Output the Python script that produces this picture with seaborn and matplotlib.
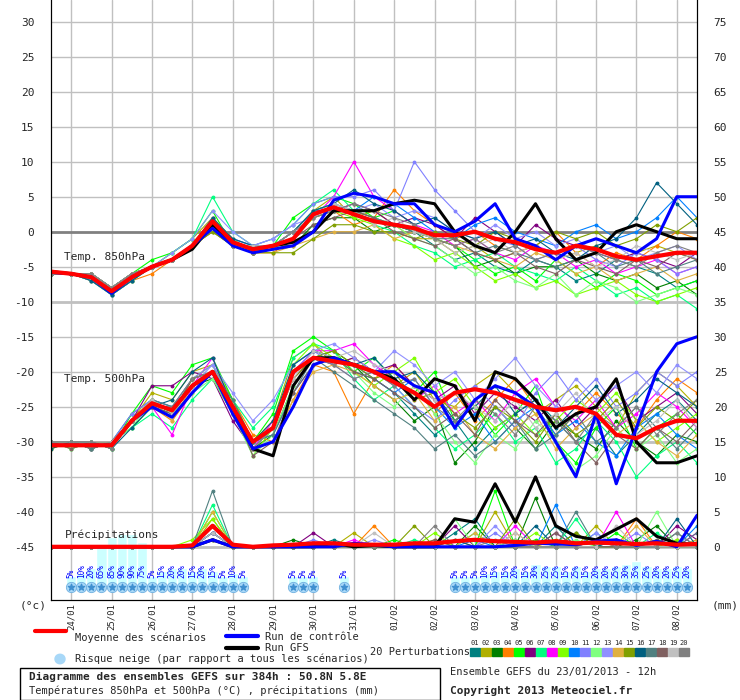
import numpy as np
import pandas as pd
import matplotlib
matplotlib.use('Agg')
import matplotlib.pyplot as plt
import seaborn as sns

# forecast hours, 12h steps from 23/01/2013 12h
hours = list(range(0, 385, 12))
dates = ['24/01', '25/01', '26/01', '27/01', '28/01', '29/01', '30/01', '31/01',
         '01/02', '02/02', '03/02', '04/02', '05/02', '06/02', '07/02', '08/02']

pert_colors = ['#008080', '#b0b000', '#008000', '#ff8000', '#00ff00', '#800080', '#00ff80',
               '#ff00ff', '#80ff00', '#0080ff', '#8080ff', '#80ff80', '#9090ff', '#e0b040',
               '#80a000', '#006080', '#508080', '#806060', '#c0c0c0', '#808080']

# --- 850 hPa temperature (°C)
t850_mean = [-5.7, -6, -6.5, -8.5, -6.5, -5, -4, -2, 1.5, -1.5, -2.5, -2, -1, 2.5, 3.5, 2.5, 1.5,
             1, 0.5, -0.5, -0.5, 0, -1, -1.5, -2.5, -3, -2, -2.5, -3.5, -4, -3.5, -3, -3]
t850_ctrl = [-5.8, -6, -6.5, -8.8, -6.5, -5, -4, -2, 0.5, -2, -3, -2.5, -2, 0, 4.5, 5.5, 5, 4,
             4, 1, 0, 1.5, 4, -1, -2, -4, -2, -1, -2, -3, -1, 5, 5]
t850_gfs = [-5.7, -6, -6.5, -8.5, -6.5, -5, -4, -2.5, 1, -1.5, -2.5, -2, -1.5, 0, 3, 3, 3, 4,
            4.5, 4, 0, -2, -3, 0, 4, -1, -4, -3, 0, 1, 0, -1, -1]
t850_pert = [
    [-6, -6, -6, -9, -7, -5, -4, -2, 1, -2, -3, -2, -1, 3, 4, 3, 2, 1, 0, -2, -4, -3, -5, -6, -4, -5, -7, -6, -4, -5, -6, -8, -7],
    [-6, -6, -7, -8, -6, -5, -3, -1, 2, -1, -3, -2, 0, 3, 5, 2, 3, 1, -1, -1, -3, -2, -4, -3, -2, -4, -3, -2, -4, -3, -2, -3, -4],
    [-6, -6, -6, -8, -6, -5, -4, -2, 0, -2, -2, -2, -2, 1, 2, 2, 0, 1, 0, -1, -2, -5, -4, -6, -5, -5, -4, -6, -7, -6, -8, -7, -9],
    [-6, -6, -7, -9, -7, -6, -4, -2, 2, -1, -3, -3, -1, 2, 3, 1, 2, 6, 3, 1, -1, 0, -2, -3, -2, 0, -3, -5, -3, -4, -2, 0, -1],
    [-6, -6, -6, -8, -6, -4, -3, -1, 3, -2, -3, -2, 2, 4, 5, 4, 2, 3, 1, -1, -2, -4, -6, -5, -7, -4, -6, -8, -6, -7, -9, -8, -7],
    [-6, -6, -6, -8, -6, -5, -4, -2, 1, -2, -3, -2, 0, 3, 3, 4, 3, 1, 2, 1, -1, 2, 0, -2, 1, -1, -2, -3, -4, -3, -4, -5, -3],
    [-6, -6, -7, -9, -7, -5, -3, -1, 5, 0, -2, -1, 1, 4, 6, 3, 1, 0, -2, -3, -5, -4, -3, -5, -6, -7, -5, -7, -9, -8, -10, -9, -11],
    [-6, -6, -6, -8, -6, -5, -4, -2, 2, -2, -3, -2, 0, 2, 5, 10, 5, 3, 1, 0, -2, -1, -3, -4, -2, -3, -5, -4, -6, -5, -4, -6, -5],
    [-6, -6, -6, -8, -7, -5, -4, -2, 1, -2, -2, -2, -1, 2, 3, 2, 1, -1, -2, -4, -3, -5, -7, -6, -8, -7, -9, -8, -7, -9, -10, -9, -8],
    [-6, -6, -6, -8, -6, -5, -4, -2, 1, -1, -2, -2, 0, 3, 4, 3, 5, 4, 2, 0, -1, 1, 2, 0, -1, -2, 0, 1, -1, 0, 2, 5, 2],
    [-6, -6, -7, -9, -7, -5, -4, -2, 2, -1, -2, -1, 1, 4, 5, 5, 6, 3, 10, 6, 3, 0, -1, -2, -4, -3, -2, -4, -5, -3, -4, -6, -5],
    [-6, -6, -6, -8, -6, -5, -4, -2, 2, -1, -3, -2, 0, 3, 4, 3, 2, 1, -1, -2, -4, -6, -5, -7, -8, -6, -9, -7, -8, -10, -9, -8, -9],
    [-6, -6, -6, -8, -6, -5, -3, -1, 3, 0, -2, -1, 1, 2, 4, 3, 4, 2, 3, 2, 0, -1, 1, -1, 0, -2, -1, -3, -2, -4, -3, -2, -4],
    [-6, -6, -6, -8, -6, -5, -4, -2, 0, -2, -3, -3, -2, -1, 0, 0, 1, -1, 0, -1, -2, -3, -4, -5, -3, -4, -6, -5, -7, -6, -5, -7, -6],
    [-6, -6, -6, -8, -6, -5, -4, -2, 0, -2, -3, -3, -3, -1, 1, 1, 0, 0, -1, 0, -1, -2, 0, -1, -2, 0, -1, 0, -2, -1, 1, 0, 2],
    [-6, -6, -7, -9, -7, -5, -4, -2, 2, -1, -2, -2, 0, 3, 4, 6, 4, 3, 1, 2, 0, -1, 0, -2, -1, -3, -4, -2, -1, 2, 7, 4, 1],
    [-6, -6, -6, -8, -6, -5, -4, -2, 1, -2, -3, -2, 0, 2, 3, 3, 2, 1, 0, -1, -1, -3, -2, -3, -4, -5, -4, -3, -5, -4, -6, -5, -4],
    [-6, -6, -6, -8, -6, -5, -4, -2, 1, -2, -3, -2, -1, 1, 2, 3, 2, 0, -1, -2, -1, -3, -4, -3, -5, -6, -4, -5, -6, -4, -5, -3, -4],
    [-6, -6, -6, -8, -6, -5, -4, -2, 1, -2, -2, -2, 0, 2, 4, 3, 1, 2, 0, -1, -3, -2, -1, -3, -2, -4, -3, -5, -4, -2, -3, -4, -3],
    [-6, -6, -6, -8, -6, -5, -4, -2, 1, -2, -3, -2, 0, 2, 3, 4, 3, 2, 1, -1, -2, -1, -3, -2, -4, -3, -2, -3, -4, -5, -3, -2, -3],
]

# --- 500 hPa temperature (°C)
t500_mean = [-30.5, -30.5, -30.5, -30.5, -27, -24.5, -25.5, -22, -20, -25, -30, -28, -20, -18,
             -18.5, -19, -20, -21.5, -23, -25, -23, -22.5, -23, -24, -25, -25.5, -25, -26, -29,
             -29.5, -28, -27, -27]
t500_ctrl = [-30.5, -30.5, -30.5, -30.5, -27, -25, -26.5, -23, -20, -26, -31, -30, -25, -19, -18,
             -19, -20, -20, -22, -23, -28, -24, -22, -23, -25, -30, -35, -26, -36, -28, -20, -16, -15]
t500_gfs = [-30.5, -30.5, -30.5, -30.5, -27, -24.5, -25.5, -22, -20, -25, -31, -32, -22, -18, -18,
            -19, -20, -21, -24, -21, -22, -27, -20, -21, -24, -28, -26, -25, -21, -30, -33, -33, -32]
t500_pert = [
    [-30, -30, -31, -30, -26, -24, -25, -21, -20, -25, -31, -28, -19, -17, -18, -20, -21, -23, -26, -29, -27, -31, -28, -26, -24, -27, -30, -28, -32, -29, -26, -24, -27],
    [-30, -31, -30, -31, -27, -23, -24, -20, -19, -24, -30, -27, -18, -16, -19, -18, -20, -22, -20, -24, -25, -22, -20, -23, -26, -24, -22, -25, -28, -23, -20, -22, -25],
    [-30, -30, -31, -30, -28, -25, -26, -22, -21, -26, -31, -29, -22, -18, -17, -19, -22, -24, -27, -25, -33, -30, -25, -28, -31, -27, -29, -31, -27, -30, -32, -29, -30],
    [-31, -30, -30, -30, -27, -25, -27, -23, -20, -24, -29, -30, -24, -19, -20, -26, -21, -19, -22, -26, -23, -27, -24, -21, -25, -29, -26, -23, -26, -28, -24, -21, -23],
    [-30, -30, -30, -31, -26, -22, -23, -19, -18, -24, -30, -26, -17, -15, -17, -20, -18, -21, -23, -20, -27, -25, -29, -26, -22, -30, -33, -28, -25, -31, -28, -26, -29],
    [-30, -30, -31, -30, -27, -22, -22, -20, -21, -27, -31, -28, -21, -18, -19, -18, -20, -19, -22, -24, -22, -26, -23, -25, -27, -24, -28, -25, -22, -27, -25, -23, -26],
    [-30, -31, -30, -30, -28, -26, -28, -24, -21, -24, -28, -25, -18, -16, -17, -21, -24, -22, -25, -28, -31, -29, -26, -30, -28, -33, -31, -27, -30, -35, -32, -30, -33],
    [-30, -30, -30, -30, -27, -25, -29, -22, -18, -25, -31, -27, -20, -17, -17, -16, -19, -21, -24, -22, -26, -24, -27, -23, -21, -25, -27, -24, -28, -26, -23, -25, -28],
    [-31, -30, -30, -31, -27, -24, -26, -21, -19, -25, -32, -28, -19, -16, -18, -20, -22, -20, -18, -23, -21, -25, -28, -26, -29, -27, -24, -26, -23, -27, -30, -28, -26],
    [-30, -30, -31, -30, -27, -25, -26, -22, -20, -26, -30, -29, -23, -19, -18, -19, -21, -23, -21, -25, -28, -26, -30, -27, -25, -29, -27, -30, -32, -28, -26, -29, -31],
    [-30, -30, -30, -30, -26, -24, -25, -21, -19, -25, -31, -28, -20, -17, -19, -21, -20, -22, -25, -27, -24, -22, -25, -28, -23, -20, -24, -21, -25, -23, -20, -22, -20],
    [-30, -31, -30, -30, -28, -24, -26, -23, -21, -26, -32, -29, -22, -18, -18, -20, -23, -25, -22, -26, -30, -33, -29, -31, -27, -30, -34, -32, -28, -31, -29, -33, -31],
    [-30, -30, -30, -31, -27, -25, -25, -22, -19, -23, -27, -24, -19, -17, -16, -18, -20, -17, -19, -22, -20, -24, -21, -18, -22, -25, -21, -24, -22, -20, -23, -19, -21],
    [-30, -30, -31, -30, -27, -24, -27, -22, -20, -25, -31, -30, -24, -20, -19, -20, -22, -24, -23, -27, -25, -29, -31, -28, -26, -31, -28, -26, -29, -27, -30, -32, -29],
    [-30, -30, -30, -30, -27, -25, -26, -21, -20, -26, -31, -28, -21, -18, -17, -19, -21, -20, -24, -23, -26, -28, -25, -27, -30, -26, -29, -27, -24, -28, -25, -27, -24],
    [-31, -30, -30, -31, -28, -25, -24, -20, -18, -25, -30, -27, -19, -17, -18, -19, -18, -21, -20, -23, -27, -25, -22, -26, -24, -28, -25, -22, -26, -24, -21, -23, -25],
    [-30, -30, -31, -30, -27, -24, -25, -22, -20, -24, -30, -29, -23, -18, -20, -22, -24, -26, -28, -31, -29, -32, -30, -27, -31, -29, -26, -30, -28, -25, -28, -31, -28],
    [-30, -31, -30, -30, -27, -25, -26, -21, -20, -25, -32, -30, -23, -19, -18, -20, -21, -23, -25, -28, -26, -29, -24, -27, -29, -26, -30, -33, -29, -31, -28, -30, -27],
    [-30, -30, -30, -30, -27, -24, -26, -22, -20, -26, -31, -28, -21, -17, -18, -17, -19, -20, -22, -24, -23, -25, -27, -24, -28, -26, -23, -27, -25, -29, -27, -24, -28],
    [-30, -30, -30, -31, -27, -25, -25, -21, -20, -25, -31, -28, -20, -18, -19, -21, -20, -22, -21, -25, -27, -24, -26, -29, -25, -27, -30, -26, -28, -25, -29, -26, -24],
]

# --- precipitation (mm), drawn with 0 mm at -45 on the left scale
pr_mean = [0, 0, 0, 0, 0, 0, 0, 0.2, 3, 0.3, 0, 0.2, 0.3, 0.5, 0.5, 0.3, 0.3, 0.3, 0.5, 0.5, 0.8,
           1, 0.8, 0.7, 0.6, 0.8, 0.5, 0.6, 0.5, 0.4, 0.5, 0.3, 0.4]
pr_ctrl = [0, 0, 0, 0, 0, 0, 0, 0, 1, 0, 0, 0, 0, 0, 0, 0.5, 0.3, 0, 0, 0, 0, 0, 0, 0.2, 0.5, 0.4,
           0.3, 0.8, 1, 0.2, 0.8, 0, 4.5]
pr_gfs = [0, 0, 0, 0, 0, 0, 0, 0, 1, 0, 0, 0, 0, 0, 0.5, 0, 0.2, 0, 0, 0, 4, 3.5, 9, 3.5, 10, 3,
          1.5, 1, 2.5, 4, 1.5, 0.5, 0.3]
pr_pert = [
    [0, 0, 0, 0, 0, 0, 0, 0, 2, 0, 0, 0, 0, 0, 1, 0, 0, 0, 0, 0, 2, 4, 0, 1, 0, 3, 0, 0, 1, 0, 0, 2, 0],
    [0, 0, 0, 0, 0, 0, 0, 0, 4, 0, 0, 0, 0, 0, 0, 2, 0, 0, 0, 1, 0, 0, 5, 0, 0, 1, 0, 3, 0, 0, 0, 0, 1],
    [0, 0, 0, 0, 0, 0, 0, 0, 3, 0, 0, 0, 1, 0, 0, 0, 0, 0, 0, 0, 0, 3, 0, 0, 7, 0, 2, 0, 0, 1, 3, 0, 0],
    [0, 0, 0, 0, 0, 0, 0, 0, 1, 0, 0, 0, 0, 0, 0, 0, 3, 0, 0, 0, 1, 0, 0, 2, 0, 0, 0, 1, 0, 4, 0, 1, 0],
    [0, 0, 0, 0, 0, 0, 0, 0, 5, 0, 0, 0, 0, 0, 0, 0, 0, 1, 0, 0, 0, 0, 8, 0, 1, 0, 0, 0, 2, 0, 1, 0, 0],
    [0, 0, 0, 0, 0, 0, 0, 0, 2, 0, 0, 0, 0, 2, 0, 0, 0, 0, 0, 0, 3, 0, 0, 0, 0, 2, 0, 0, 0, 0, 0, 3, 1],
    [0, 0, 0, 0, 0, 0, 0, 0, 6, 0, 0, 0, 0, 0, 0, 0, 0, 0, 1, 0, 0, 2, 0, 0, 0, 0, 4, 0, 0, 0, 2, 0, 0],
    [0, 0, 0, 0, 0, 0, 0, 0, 2, 0, 0, 0, 0, 0, 0, 1, 0, 0, 0, 0, 0, 0, 0, 3, 0, 0, 0, 0, 5, 0, 0, 0, 2],
    [0, 0, 0, 0, 0, 0, 0, 1, 4, 0, 0, 0, 0, 0, 0, 0, 0, 0, 0, 2, 0, 0, 0, 0, 2, 0, 0, 0, 0, 0, 0, 1, 0],
    [0, 0, 0, 0, 0, 0, 0, 0, 1, 0, 0, 0, 0, 0, 0, 0, 0, 0, 0, 0, 0, 1, 0, 0, 0, 6, 0, 2, 0, 0, 0, 0, 3],
    [0, 0, 0, 0, 0, 0, 0, 0, 3, 0, 0, 0, 0, 1, 0, 0, 0, 0, 0, 0, 0, 0, 2, 0, 0, 0, 0, 0, 0, 2, 0, 0, 0],
    [0, 0, 0, 0, 0, 0, 0, 0, 2, 0, 0, 0, 0, 0, 0, 0, 0, 0, 0, 0, 4, 0, 0, 1, 0, 0, 1, 0, 0, 0, 5, 0, 0],
    [0, 0, 0, 0, 0, 0, 0, 0, 2, 0, 0, 0, 0, 0, 0, 0, 1, 0, 0, 0, 0, 0, 3, 0, 0, 0, 0, 2, 0, 0, 0, 0, 0],
    [0, 0, 0, 0, 0, 0, 0, 0, 5, 0, 0, 0, 0, 0, 0, 0, 0, 0, 0, 0, 0, 2, 0, 0, 0, 0, 0, 0, 0, 3, 0, 0, 1],
    [0, 0, 0, 0, 0, 0, 0, 0, 1, 0, 0, 0, 0, 0, 0, 0, 0, 0, 3, 0, 0, 0, 0, 4, 0, 0, 2, 0, 0, 0, 0, 0, 0],
    [0, 0, 0, 0, 0, 0, 0, 0, 2, 0, 0, 0, 0, 0, 0, 0, 0, 0, 0, 0, 1, 0, 0, 0, 3, 0, 0, 0, 1, 0, 0, 4, 0],
    [0, 0, 0, 0, 0, 0, 0, 0, 8, 0, 0, 0, 0, 0, 0, 0, 0, 0, 0, 0, 0, 0, 0, 0, 0, 0, 5, 0, 0, 0, 0, 0, 2],
    [0, 0, 0, 0, 0, 0, 0, 0, 3, 0, 0, 0, 0, 0, 0, 0, 0, 0, 0, 1, 0, 0, 0, 0, 0, 2, 0, 0, 0, 0, 1, 0, 0],
    [0, 0, 0, 0, 0, 0, 0, 0, 2, 0, 0, 0, 0, 0, 0, 0, 2, 0, 0, 0, 0, 0, 0, 2, 0, 0, 0, 0, 3, 0, 0, 0, 0],
    [0, 0, 0, 0, 0, 0, 0, 0, 1, 0, 0, 0, 0, 0, 0, 0, 0, 0, 0, 3, 0, 0, 1, 0, 0, 0, 0, 1, 0, 0, 0, 2, 0],
]

# snow risk (% of scenarios), 6h steps
snow_hours = list(range(12, 120, 6)) + [144, 150, 156, 174] + list(range(240, 384, 6))
snow_pct = [5, 10, 20, 65, 85, 90, 90, 75, 5, 15, 20, 20, 15, 20, 15, 5, 10, 5,
            5, 5, 5, 5,
            5, 5, 5, 10, 15, 15, 20, 15, 30, 25, 25, 15, 25, 15, 20, 20, 25, 30, 35, 25, 20, 20, 25, 20]

PR0 = -45
MONO = 'DejaVu Sans Mono'

sns.set_style('white')
plt.rcParams['font.family'] = [MONO]
fig = plt.figure(figsize=(7.4, 7.0), dpi=100)
ax = fig.add_axes([51 / 740, 1 - 600 / 700, 646 / 740, 600 / 700])
ax.set_xlim(0, 384)
ax.set_ylim(-52.6, 33.1)

# grid
for h in range(12, 385, 24):
    ax.axvline(h, color='#c0c0c0', lw=1, zorder=0)
for v in range(-45, 31, 5):
    lw, c = 1, '#c0c0c0'
    if v in (-10, -30, -45):
        lw = 2
    if v == 0:
        lw, c = 2, '#808080'
    ax.axhline(v, color=c, lw=lw, zorder=0)

# snow risk shading bars
ax.bar(snow_hours, [1 + p * 0.07 for p in snow_pct], bottom=-50.5, width=6,
       color='#ccffff', zorder=1)

# perturbations
for i in range(20):
    c = pert_colors[i]
    sns.lineplot(x=hours, y=t850_pert[i], ax=ax, color=c, lw=0.8, marker='o', ms=2, mec=c, zorder=2)
    sns.lineplot(x=hours, y=t500_pert[i], ax=ax, color=c, lw=0.8, marker='o', ms=2, mec=c, zorder=2)
    sns.lineplot(x=hours, y=[PR0 + p for p in pr_pert[i]], ax=ax, color=c, lw=0.8, marker='o',
                 ms=2, mec=c, zorder=2)

for series, col, lw in [((t850_gfs, t500_gfs, pr_gfs), 'black', 2.2),
                        ((t850_ctrl, t500_ctrl, pr_ctrl), 'blue', 2.2),
                        ((t850_mean, t500_mean, pr_mean), 'red', 3)]:
    a, b, p = series
    sns.lineplot(x=hours, y=a, ax=ax, color=col, lw=lw, zorder=3)
    sns.lineplot(x=hours, y=b, ax=ax, color=col, lw=lw, zorder=3)
    sns.lineplot(x=hours, y=[PR0 + v for v in p], ax=ax, color=col, lw=lw, zorder=3)

# snow icons and labels
ax.scatter(snow_hours, [-50.8] * len(snow_hours), marker='o', s=55, color='#a8d8f8',
           edgecolor='#70b0e0', linewidth=0.6, zorder=4)
ax.scatter(snow_hours, [-50.8] * len(snow_hours), marker='*', s=22, color='#4090d0', zorder=5)
for h, p in zip(snow_hours, snow_pct):
    ax.text(h, -49.4, f'{p}%', rotation=90, ha='center', va='bottom', fontsize=5.5,
            color='blue', zorder=5)

ax.text(8, -3.6, 'Temp. 850hPa', fontsize=8, va='center')
ax.text(8, -21, 'Temp. 500hPa', fontsize=8, va='center')
ax.text(8, -43.3, 'Précipitations', fontsize=8, va='center')

# axes
yt = list(range(-45, 31, 5))
ax.set_yticks(yt)
ax.set_yticklabels([str(v) for v in yt], fontsize=8)
ax.tick_params(axis='y', length=0, pad=12)
ax2 = ax.twinx()
ax2.set_ylim(ax.get_ylim())
ax2.set_yticks(yt)
ax2.set_yticklabels([str(v + 45) for v in yt], fontsize=8)
ax2.tick_params(axis='y', length=0, pad=12)
ax.set_xticks(list(range(12, 385, 24)))
ax.set_xticklabels(dates, rotation=90, fontsize=6.5)
ax.tick_params(axis='x', length=0, pad=2)
for a in (ax, ax2):
    a.spines['top'].set_visible(False)
    for s in ('bottom', 'left', 'right'):
        a.spines[s].set_color('black')
    a.grid(False)

# legend / footer
def fx(x):
    return x / 740

def fy(y):
    return 1 - y / 700

fig.text(fx(20), fy(606), '(°c)', fontsize=8, va='center')
fig.text(fx(712), fy(606), '(mm)', fontsize=8, va='center')
fig.add_artist(plt.Line2D([fx(35), fx(66)], [fy(631), fy(631)], color='red', lw=3))
fig.text(fx(75), fy(638), 'Moyenne des scénarios', fontsize=7.5, va='center')
fig.add_artist(plt.Line2D([fx(226), fx(258)], [fy(636), fy(636)], color='blue', lw=3))
fig.text(fx(265), fy(637), 'Run de contrôle', fontsize=7.5, va='center')
fig.add_artist(plt.Line2D([fx(226), fx(258)], [fy(648), fy(648)], color='black', lw=3))
fig.text(fx(265), fy(648), 'Run GFS', fontsize=7.5, va='center')
fig.add_artist(plt.Circle((fx(60), fy(659)), 5 / 740, color='#a8d8f8', transform=fig.transFigure))
fig.text(fx(75), fy(659), 'Risque neige (par rapport a tous les scénarios)', fontsize=7.5, va='center')
fig.text(fx(370), fy(652), '20 Perturbations', fontsize=7.5, va='center')
for i, c in enumerate(pert_colors):
    x0 = 470 + i * 11
    fig.add_artist(plt.Rectangle((fx(x0), fy(656)), fx(10), 8 / 700, color=c))
    fig.text(fx(x0 + 5), fy(643), f'{i + 1:02d}', fontsize=5, ha='center', va='center')
fig.add_artist(plt.Rectangle((fx(20), fy(700)), fx(420), 32 / 700, fill=False, ec='black', lw=1))
fig.text(fx(29), fy(677), 'Diagramme des ensembles GEFS sur 384h : 50.8N 5.8E', fontsize=8,
         fontweight='bold', va='center')
fig.text(fx(29), fy(691), 'Températures 850hPa et 500hPa (°C) , précipitations (mm)', fontsize=7.5,
         va='center')
fig.text(fx(450), fy(672), 'Ensemble GEFS du 23/01/2013 - 12h', fontsize=7.5, va='center')
fig.text(fx(450), fy(691), 'Copyright 2013 Meteociel.fr', fontsize=8, fontweight='bold', va='center')

fig.savefig('out.png', dpi=100, facecolor='white')
